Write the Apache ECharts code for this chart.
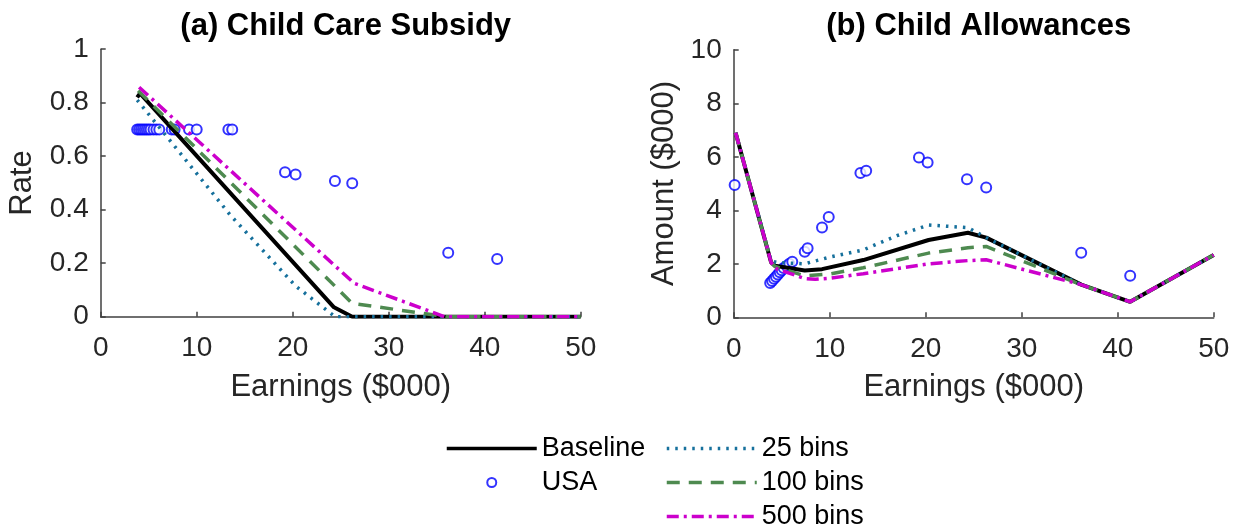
<!DOCTYPE html>
<html>
<head>
<meta charset="utf-8">
<script src="https://cdn.jsdelivr.net/npm/echarts@6/dist/echarts.min.js"></script>
<style>
html,body{margin:0;padding:0;background:#fff;}
#main{width:1244px;height:529px;}
</style>
</head>
<body>
<div id="main"></div>
<script>
// (a) child care subsidy rate, earnings in $000
var ccBaseX = [3.8, 4.1, 24.3, 26.2, 50];
var ccBaseY = [0.82, 0.835, 0.035, 0, 0];
var cc25X = [3.8, 13.5, 20.3, 24.4, 50];
var cc25Y = [0.81, 0.38, 0.115, 0, 0];
var cc100X = [3.9, 26.2, 36, 50];
var cc100Y = [0.845, 0.05, 0, 0];
var cc500X = [4.0, 26.4, 35.8, 50];
var cc500Y = [0.858, 0.125, 0, 0];
var ccUsaX = [3.8, 4.0, 4.2, 4.4, 4.6, 4.8, 5.0, 5.2, 5.5, 5.8, 6.1, 7.4, 7.7, 9.2, 10.0, 13.3, 13.7, 19.2, 20.3, 24.4, 26.2, 36.2, 41.3];
var ccUsaY = [0.7, 0.7, 0.7, 0.7, 0.7, 0.7, 0.7, 0.7, 0.7, 0.7, 0.7, 0.7, 0.7, 0.7, 0.7, 0.7, 0.7, 0.54, 0.532, 0.507, 0.499, 0.239, 0.216];

// (b) child allowances amount ($000)
var caBaseX = [0.2, 3.9, 4.3, 7.4, 9.2, 13.5, 20.3, 24.4, 26.3, 36.2, 41.3, 50];
var caBaseY = [6.9, 2.05, 1.93, 1.75, 1.8, 2.14, 2.89, 3.16, 2.98, 1.22, 0.58, 2.33];
var ca25X = [0.2, 3.9, 4.5, 7.4, 10, 13.5, 17, 20.3, 24.4, 26.3, 36.2, 41.3, 50];
var ca25Y = [6.9, 2.1, 2.05, 2.0, 2.25, 2.52, 3.05, 3.45, 3.35, 2.98, 1.22, 0.58, 2.33];
var ca100X = [0.2, 3.9, 4.3, 7.4, 10, 13.5, 20.3, 24.4, 26.3, 36.2, 41.3, 50];
var ca100Y = [6.9, 2.05, 1.9, 1.55, 1.62, 1.85, 2.4, 2.6, 2.65, 1.22, 0.58, 2.33];
var ca500X = [0.2, 3.9, 4.3, 7.4, 8.5, 10, 13.5, 20.3, 24.4, 26.3, 36.2, 41.3, 50];
var ca500Y = [6.9, 2.05, 1.83, 1.45, 1.42, 1.46, 1.63, 2.0, 2.12, 2.15, 1.22, 0.58, 2.33];
var caUsaX = [0.1, 3.8, 4.0, 4.2, 4.4, 4.6, 4.8, 5.0, 5.2, 5.5, 5.8, 6.1, 7.4, 7.7, 9.2, 9.9, 13.2, 13.8, 19.3, 20.2, 24.3, 26.3, 36.2, 41.3];
var caUsaY = [4.95, 1.28, 1.36, 1.44, 1.52, 1.6, 1.68, 1.76, 1.84, 1.92, 2.0, 2.08, 2.45, 2.58, 3.36, 3.75, 5.39, 5.48, 5.97, 5.79, 5.16, 4.85, 2.41, 1.55];

function pairs(xs, ys){
    return xs.map(function(x, i){ return [x, ys[i]]; });
}

var font = "'Liberation Sans', Arial, sans-serif";
var axisCol = '#404040';
var txtCol = '#262626';

function xAx(idx){
    return {
        gridIndex: idx, type: 'value', min: 0, max: 50, interval: 10,
        name: 'Earnings ($000)', nameLocation: 'middle', nameGap: 55,
        nameTextStyle: {fontSize: 31, color: txtCol, fontFamily: font},
        axisLine: {lineStyle: {color: axisCol, width: 1.5}},
        axisTick: {inside: true, length: 5, lineStyle: {color: axisCol, width: 1.5}},
        axisLabel: {fontSize: 28, color: txtCol, fontFamily: font, margin: 18},
        splitLine: {show: false}
    };
}
function yAx(idx, max, step, name, gap){
    return {
        gridIndex: idx, type: 'value', min: 0, max: max, interval: step,
        name: name, nameLocation: 'middle', nameGap: gap, nameRotate: 90,
        nameTextStyle: {fontSize: 31, color: txtCol, fontFamily: font},
        axisLine: {show: true, lineStyle: {color: axisCol, width: 1.5}},
        axisTick: {show: true, inside: true, length: 5, lineStyle: {color: axisCol, width: 1.5}},
        axisLabel: {fontSize: 28, color: txtCol, fontFamily: font, margin: 12},
        splitLine: {show: false}
    };
}
// lines have no markers; itemStyle opacity 0 keeps the legend icon a plain line
function ln(name, idx, xs, ys, color, width, dash){
    return {
        name: name, type: 'line', xAxisIndex: idx, yAxisIndex: idx,
        data: pairs(xs, ys), symbol: 'none', animation: false,
        lineStyle: {color: color, width: width, type: dash},
        itemStyle: {color: color, opacity: 0}
    };
}
function usa(idx, xs, ys){
    return {
        name: 'USA', type: 'scatter', xAxisIndex: idx, yAxisIndex: idx,
        data: pairs(xs, ys), symbol: 'emptyCircle', symbolSize: 10, animation: false,
        itemStyle: {color: '#0000ff', borderColor: '#0000ff', borderWidth: 2.2}
    };
}

var cBase = '#000000', c25 = '#16709c', c100 = '#4e8a50', c500 = '#cc00cc';
var d25 = [2.5, 6], d100 = [13, 9], d500 = [12, 5, 3, 5];

var legendBase = {
    orient: 'vertical', top: 435, height: 110, padding: 0,
    itemWidth: 90, itemHeight: 9, itemGap: 7,
    lineStyle: {width: 3.5},
    textStyle: {fontSize: 27, color: '#000', fontFamily: font}
};

var option = {
    backgroundColor: '#ffffff',
    title: [{
        text: '(a) Child Care Subsidy', left: 340.7, top: 6, textAlign: 'center',
        textStyle: {fontSize: 31, fontWeight: 'bold', color: '#000', fontFamily: font}
    }, {
        text: '(b) Child Allowances', left: 973.7, top: 6, textAlign: 'center',
        textStyle: {fontSize: 31, fontWeight: 'bold', color: '#000', fontFamily: font}
    }],
    grid: [
        {left: 100.7, top: 49.2, width: 480, height: 267.5},
        {left: 733.7, top: 49.8, width: 480, height: 267.5}
    ],
    xAxis: [xAx(0), xAx(1)],
    yAxis: [yAx(0, 1, 0.2, 'Rate', 63), yAx(1, 10, 2, 'Amount ($000)', 54)],
    legend: [
        Object.assign({}, legendBase, {
            left: 445,
            data: ['Baseline', {name: 'USA', icon: 'emptyCircle'}]
        }),
        Object.assign({}, legendBase, {
            left: 665,
            data: ['25 bins', '100 bins', '500 bins']
        })
    ],
    series: [
        ln('Baseline', 0, ccBaseX, ccBaseY, cBase, 4, 'solid'),
        usa(0, ccUsaX, ccUsaY),
        ln('25 bins', 0, cc25X, cc25Y, c25, 3.5, d25),
        ln('100 bins', 0, cc100X, cc100Y, c100, 3.5, d100),
        ln('500 bins', 0, cc500X, cc500Y, c500, 3.5, d500),
        ln('Baseline', 1, caBaseX, caBaseY, cBase, 4, 'solid'),
        usa(1, caUsaX, caUsaY),
        ln('25 bins', 1, ca25X, ca25Y, c25, 3.5, d25),
        ln('100 bins', 1, ca100X, ca100Y, c100, 3.5, d100),
        ln('500 bins', 1, ca500X, ca500Y, c500, 3.5, d500)
    ]
};

var chart = echarts.init(document.getElementById('main'));
chart.setOption(option);
</script>
</body>
</html>
